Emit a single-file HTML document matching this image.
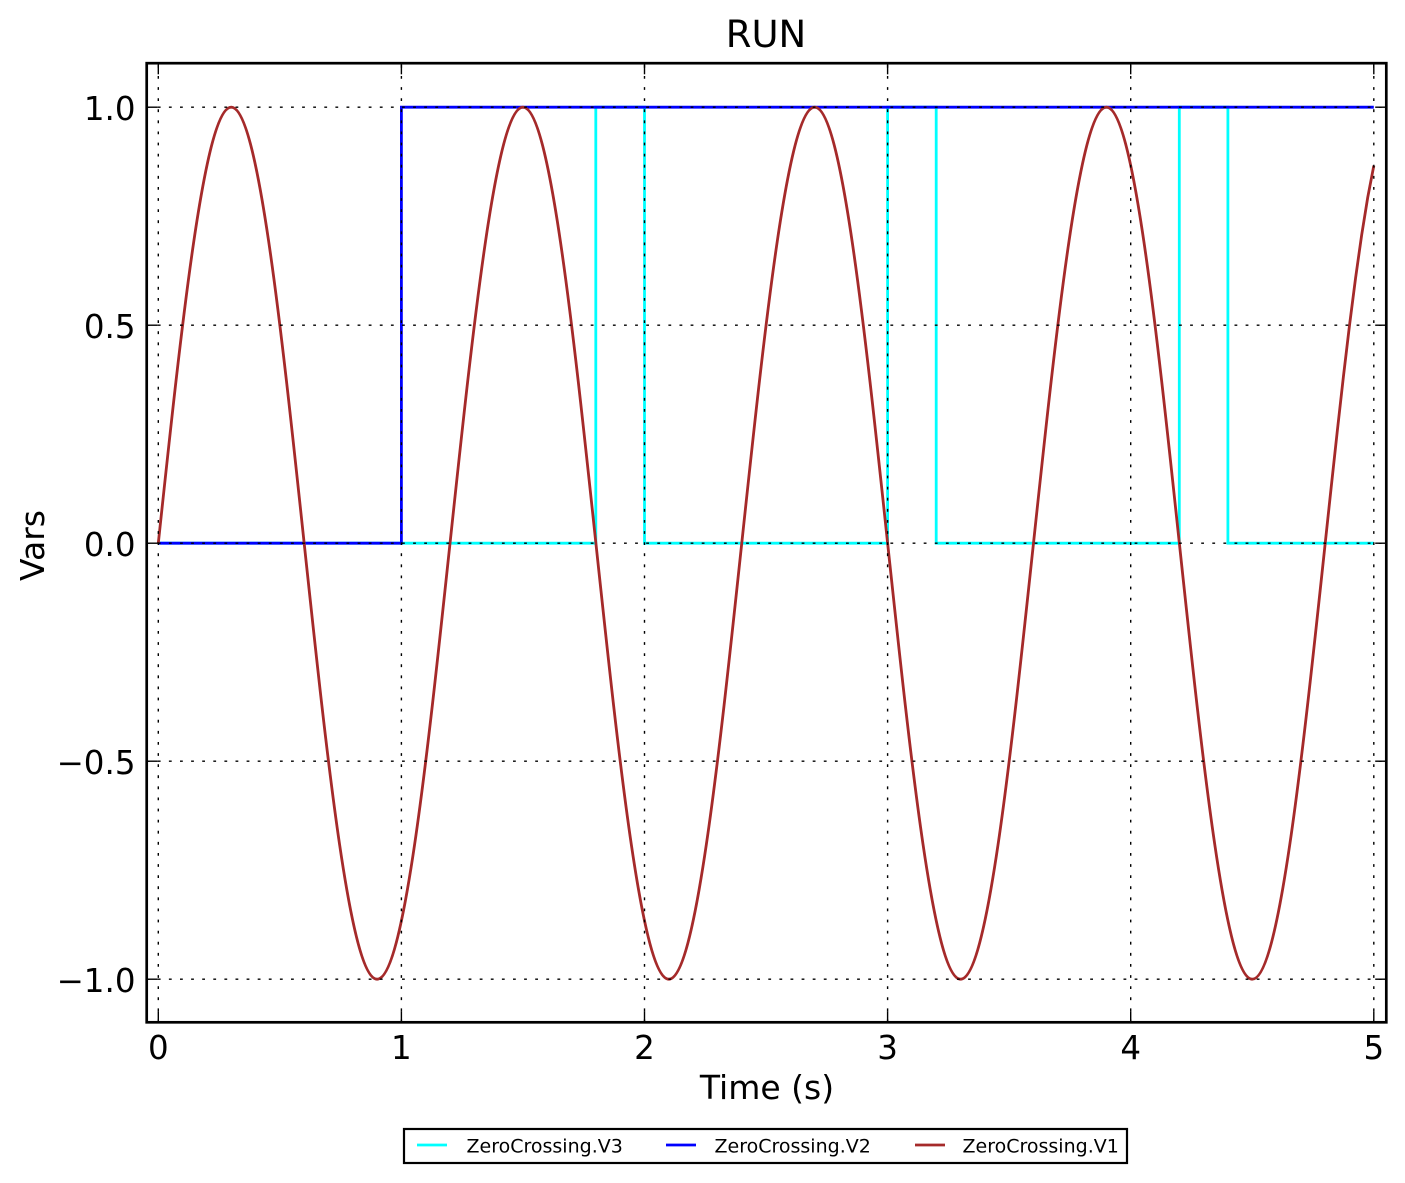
<!DOCTYPE html>
<html>
<head>
<meta charset="utf-8">
<style>
  html, body { margin: 0; padding: 0; background: #ffffff; }
  svg { display: block; }
  text { font-family: "DejaVu Sans", "Liberation Sans", sans-serif; fill: #000; }
</style>
</head>
<body>
<svg width="1405" height="1183" viewBox="0 0 1405 1183" xmlns="http://www.w3.org/2000/svg">
  <rect x="0" y="0" width="1405" height="1183" fill="#ffffff"/>

  <!-- Series: V3 (cyan) -->
  <polyline fill="none" stroke="#00ffff" stroke-width="2.8" stroke-linejoin="miter"
    points="158.3,543.2 401.4,543.2 595.8,543.2 595.8,107.2 644.5,107.2 644.5,543.2 887.6,543.2 887.6,107.2 936.2,107.2 936.2,543.2 1179.3,543.2 1179.3,107.2 1227.9,107.2 1227.9,543.2 1373.8,543.2"/>

  <!-- Series: V2 (blue) -->
  <polyline fill="none" stroke="#0000ff" stroke-width="2.8" stroke-linejoin="miter"
    points="158.3,543.2 401.4,543.2 401.4,107.2 1373.8,107.2"/>

  <!-- Series: V1 (brown sine) -->
  <g transform="translate(158.3,543.2) scale(46.43,-436)">
    <path fill="none" stroke="#a52a2a" stroke-width="2.8" vector-effect="non-scaling-stroke" stroke-linejoin="round"
      d="M0,0 C0.5123,0.5123 1.0023,1 1.5708,1
         S2.6293,0.5123 3.1416,0
         S4.1439,-1 4.7124,-1
         S5.7709,-0.5123 6.2832,0
         S7.2855,1 7.8540,1
         S8.9125,0.5123 9.4248,0
         S10.4271,-1 10.9956,-1
         S12.0541,-0.5123 12.5664,0
         S13.5687,1 14.1372,1
         S15.1957,0.5123 15.7080,0
         S16.7103,-1 17.2788,-1
         S18.3373,-0.5123 18.8496,0
         S19.8519,1 20.4204,1
         S21.4788,0.5123 21.9911,0
         S22.9934,-1 23.5619,-1
         S24.6204,-0.5123 25.1327,0
         L25.2636,0.1305 L25.3945,0.2588 L25.5254,0.3827 L25.6563,0.5 L25.7872,0.6088 L25.9181,0.7071 L26.0490,0.7934 L26.1799,0.8660"/>
  </g>

  <!-- Grid (dotted, drawn on top) -->
  <g stroke="#000" stroke-width="1.4" stroke-dasharray="2.8 8.3" fill="none">
    <line x1="158.3" y1="1022.3" x2="158.3" y2="63.2"/>
    <line x1="401.4" y1="1022.3" x2="401.4" y2="63.2"/>
    <line x1="644.5" y1="1022.3" x2="644.5" y2="63.2"/>
    <line x1="887.6" y1="1022.3" x2="887.6" y2="63.2"/>
    <line x1="1130.7" y1="1022.3" x2="1130.7" y2="63.2"/>
    <line x1="1373.8" y1="1022.3" x2="1373.8" y2="63.2"/>
    <line x1="146.7" y1="107.2" x2="1386.3" y2="107.2"/>
    <line x1="146.7" y1="325.2" x2="1386.3" y2="325.2"/>
    <line x1="146.7" y1="543.2" x2="1386.3" y2="543.2"/>
    <line x1="146.7" y1="761.2" x2="1386.3" y2="761.2"/>
    <line x1="146.7" y1="979.2" x2="1386.3" y2="979.2"/>
  </g>

  <!-- Ticks -->
  <g stroke="#000" stroke-width="1.4">
    <line x1="158.3" y1="1022.3" x2="158.3" y2="1011.2"/>
    <line x1="401.4" y1="1022.3" x2="401.4" y2="1011.2"/>
    <line x1="644.5" y1="1022.3" x2="644.5" y2="1011.2"/>
    <line x1="887.6" y1="1022.3" x2="887.6" y2="1011.2"/>
    <line x1="1130.7" y1="1022.3" x2="1130.7" y2="1011.2"/>
    <line x1="1373.8" y1="1022.3" x2="1373.8" y2="1011.2"/>
    <line x1="158.3" y1="63.2" x2="158.3" y2="74.3"/>
    <line x1="401.4" y1="63.2" x2="401.4" y2="74.3"/>
    <line x1="644.5" y1="63.2" x2="644.5" y2="74.3"/>
    <line x1="887.6" y1="63.2" x2="887.6" y2="74.3"/>
    <line x1="1130.7" y1="63.2" x2="1130.7" y2="74.3"/>
    <line x1="1373.8" y1="63.2" x2="1373.8" y2="74.3"/>
    <line x1="146.7" y1="107.2" x2="157.8" y2="107.2"/>
    <line x1="146.7" y1="325.2" x2="157.8" y2="325.2"/>
    <line x1="146.7" y1="543.2" x2="157.8" y2="543.2"/>
    <line x1="146.7" y1="761.2" x2="157.8" y2="761.2"/>
    <line x1="146.7" y1="979.2" x2="157.8" y2="979.2"/>
    <line x1="1386.3" y1="107.2" x2="1375.2" y2="107.2"/>
    <line x1="1386.3" y1="325.2" x2="1375.2" y2="325.2"/>
    <line x1="1386.3" y1="543.2" x2="1375.2" y2="543.2"/>
    <line x1="1386.3" y1="761.2" x2="1375.2" y2="761.2"/>
    <line x1="1386.3" y1="979.2" x2="1375.2" y2="979.2"/>
  </g>

  <!-- Frame -->
  <rect x="146.7" y="63.2" width="1239.6" height="959.1" fill="none" stroke="#000" stroke-width="2.7"/>

  <!-- Title -->
  <text x="766" y="47" font-size="37" text-anchor="middle">RUN</text>

  <!-- X tick labels -->
  <g font-size="32.5" text-anchor="middle">
    <text x="158.3" y="1059">0</text>
    <text x="401.4" y="1059">1</text>
    <text x="644.5" y="1059">2</text>
    <text x="887.6" y="1059">3</text>
    <text x="1130.7" y="1059">4</text>
    <text x="1373.8" y="1059">5</text>
  </g>

  <!-- Y tick labels -->
  <g font-size="32.5" text-anchor="end">
    <text x="135.5" y="120">1.0</text>
    <text x="135.5" y="338">0.5</text>
    <text x="135.5" y="556">0.0</text>
    <text x="135.5" y="774">−0.5</text>
    <text x="135.5" y="992">−1.0</text>
  </g>

  <!-- Axis labels -->
  <text x="767" y="1099" font-size="33" text-anchor="middle">Time (s)</text>
  <text x="0" y="0" font-size="33" text-anchor="middle" transform="translate(44,545.5) rotate(-90)">Vars</text>

  <!-- Legend -->
  <rect x="404" y="1129" width="723" height="34" fill="#ffffff" stroke="#000" stroke-width="2.2"/>
  <line x1="417" y1="1145" x2="447" y2="1145" stroke="#00ffff" stroke-width="2.8"/>
  <text x="466.5" y="1152.3" font-size="19">ZeroCrossing.V3</text>
  <line x1="666" y1="1145" x2="696" y2="1145" stroke="#0000ff" stroke-width="2.8"/>
  <text x="714.5" y="1152.3" font-size="19">ZeroCrossing.V2</text>
  <line x1="915" y1="1145" x2="945" y2="1145" stroke="#a52a2a" stroke-width="2.8"/>
  <text x="962.5" y="1152.3" font-size="19">ZeroCrossing.V1</text>
</svg>
</body>
</html>
